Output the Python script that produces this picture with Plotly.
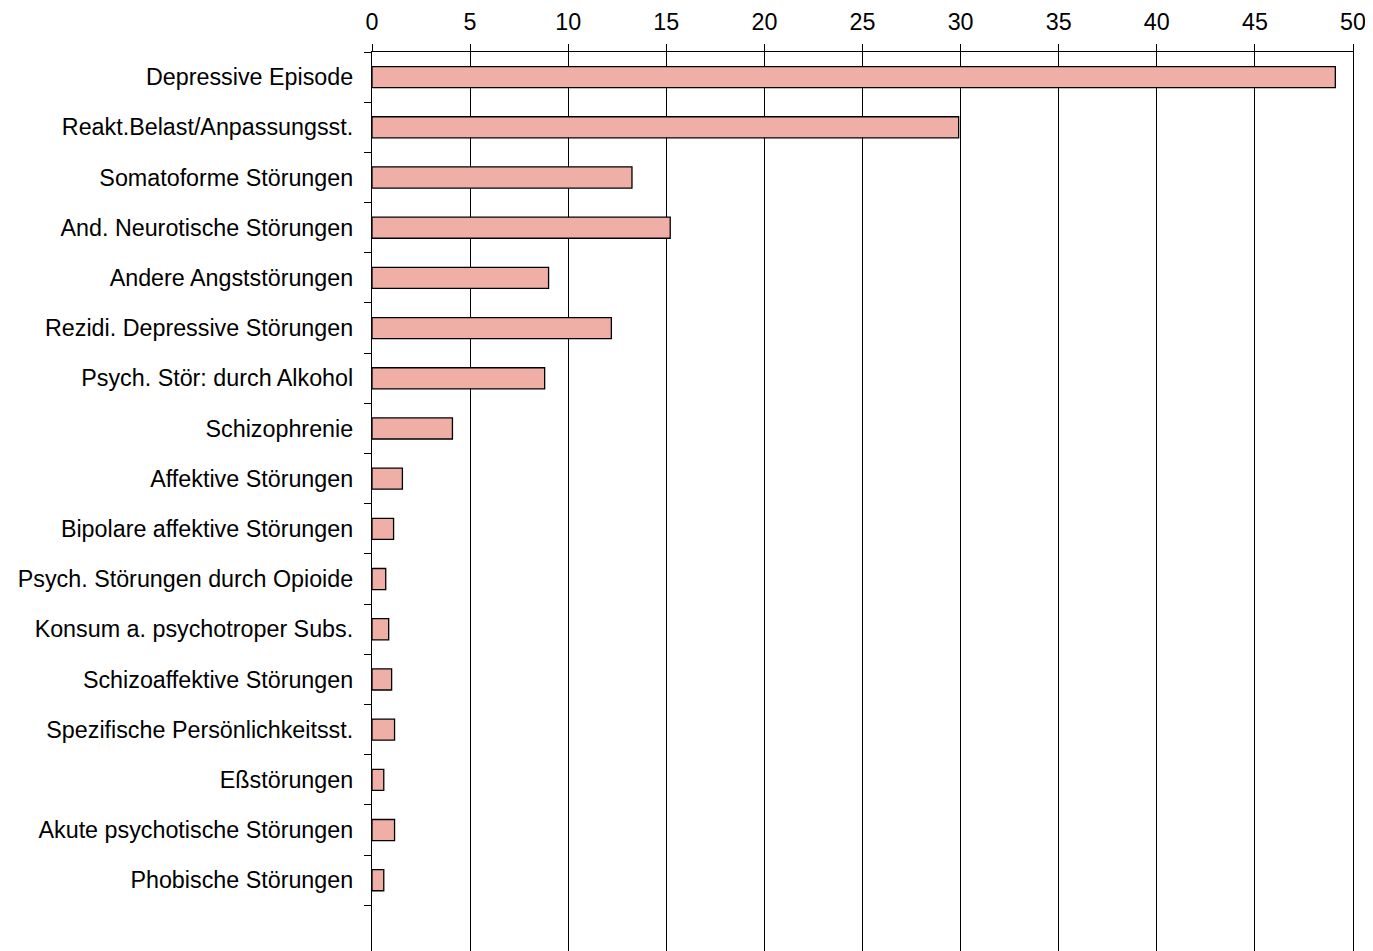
import plotly.graph_objects as go

categories = [
    "Depressive Episode",
    "Reakt.Belast/Anpassungsst.",
    "Somatoforme Störungen",
    "And. Neurotische Störungen",
    "Andere Angststörungen",
    "Rezidi. Depressive Störungen",
    "Psych. Stör: durch Alkohol",
    "Schizophrenie",
    "Affektive Störungen",
    "Bipolare affektive Störungen",
    "Psych. Störungen durch Opioide",
    "Konsum a. psychotroper Subs.",
    "Schizoaffektive Störungen",
    "Spezifische Persönlichkeitsst.",
    "Eßstörungen",
    "Akute psychotische Störungen",
    "Phobische Störungen",
]
values = [49.1, 29.9, 13.25, 15.2, 9.0, 12.2, 8.8, 4.1, 1.55, 1.1, 0.7, 0.85, 1.0, 1.15, 0.6, 1.15, 0.6]
x_ticks = list(range(0, 51, 5))

positions = list(range(len(categories)))

fig = go.Figure()
fig.add_trace(go.Bar(
    x=values,
    y=positions,
    orientation="h",
    width=0.42,
    marker=dict(color="#F0AFA6", line=dict(color="black", width=1.3)),
    hoverinfo="x+text",
    text=categories,
    textposition="none",
))

font = dict(family="Liberation Sans, Arial, Helvetica, sans-serif", size=23.3, color="black")

fig.update_layout(
    width=1365,
    height=943,
    margin=dict(l=364, r=20, t=44, b=0, pad=0),
    paper_bgcolor="white",
    plot_bgcolor="white",
    showlegend=False,
    font=font,
    xaxis=dict(
        side="top",
        range=[0, 50],
        tickvals=x_ticks,
        ticktext=[str(v) for v in x_ticks],
        showgrid=True,
        gridcolor="black",
        gridwidth=1.3,
        showline=True,
        linecolor="black",
        linewidth=1.3,
        ticks="outside",
        ticklen=7,
        tickwidth=1.3,
        tickcolor="black",
        zeroline=False,
        ticklabelstandoff=5,
        tickfont=font,
    ),
    yaxis=dict(
        range=[len(categories) + 0.41, -0.5],
        tickvals=positions,
        ticktext=categories,
        ticks="",
        showgrid=False,
        showline=True,
        mirror=True,
        linecolor="black",
        linewidth=1.3,
        zeroline=False,
        ticklabelstandoff=13,
        tickfont=font,
        minor=dict(tick0=-0.5, dtick=1, ticks="outside", ticklen=7,
                   tickwidth=1.3, tickcolor="black", showgrid=False),
    ),
)

fig.write_html("out.html")
